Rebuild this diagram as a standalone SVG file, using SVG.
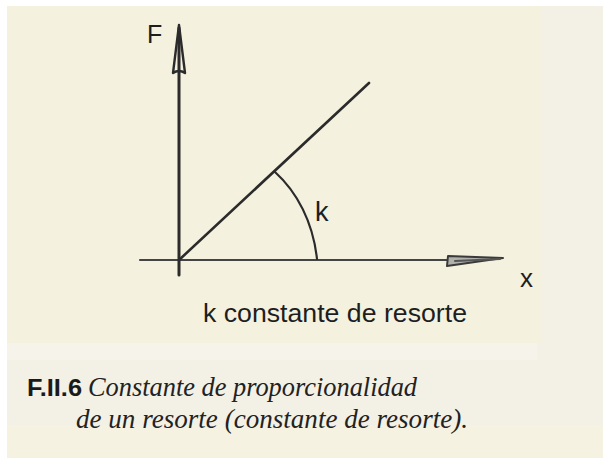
<svg xmlns="http://www.w3.org/2000/svg" width="603" height="458" viewBox="0 0 603 458">
<style>
.ax{stroke:#2b2b2b;fill:none;stroke-linecap:round;stroke-linejoin:round}
.lbl{font-family:"Liberation Sans",Arial,sans-serif;fill:#1e1e1e}
.cap{font-family:"Liberation Serif","Times New Roman",serif;font-style:italic;fill:#222}
</style>
<rect x="0" y="0" width="603" height="458" fill="#ffffff"/>
<rect x="7" y="6" width="596" height="452" fill="#f3f0e5"/>
<rect x="7" y="6" width="535" height="337" fill="#f5f1df"/>
<rect x="7" y="343" width="530" height="17" fill="#f6f4ea"/>
<rect x="7" y="425" width="596" height="33" fill="#f5f2e2"/>
<g id="connectors">
<line class="ax" x1="140" y1="260" x2="448" y2="260" stroke-width="2.2" style="stroke:#444"/>
<line class="ax" x1="179" y1="28" x2="179" y2="275" stroke-width="3"/>
<line class="ax" x1="179" y1="260" x2="369" y2="83" stroke-width="2.6"/>
<path class="ax" d="M275,172 C297,192 313,222 317,259" stroke-width="2.2"/>
<path class="ax" d="M179,25 L173,73 Q179,69 185,73 Z" stroke-width="2.4"/>
<path class="ax" d="M448,256 L503,258 L447,266 Z" stroke-width="2" style="fill:#b0b0ac;stroke:#3a3a3a"/>
<line class="ax" x1="455" y1="261" x2="500" y2="259" stroke-width="2" style="stroke:#555"/>
</g>
<g id="label-F"><text class="lbl" x="147" y="43" font-size="25">F</text></g>
<g id="label-x"><text class="lbl" x="520" y="287" font-size="26">x</text></g>
<g id="label-k"><text class="lbl" x="315" y="221" font-size="27">k</text></g>
<g id="label-const"><text class="lbl" x="203" y="322" font-size="26.5" textLength="264" lengthAdjust="spacingAndGlyphs">k constante de resorte</text></g>
<g id="caption">
<text x="27" y="396" font-family="'Liberation Sans',Arial,sans-serif" font-weight="bold" font-size="24" fill="#1a1a1a" textLength="55" lengthAdjust="spacingAndGlyphs">F.II.6</text>
<text class="cap" x="88" y="396" font-size="26.5" textLength="329" lengthAdjust="spacingAndGlyphs">Constante de proporcionalidad</text>
<text class="cap" x="76" y="428" font-size="26.5" textLength="392" lengthAdjust="spacingAndGlyphs">de un resorte (constante de resorte).</text>
</g>
</svg>
